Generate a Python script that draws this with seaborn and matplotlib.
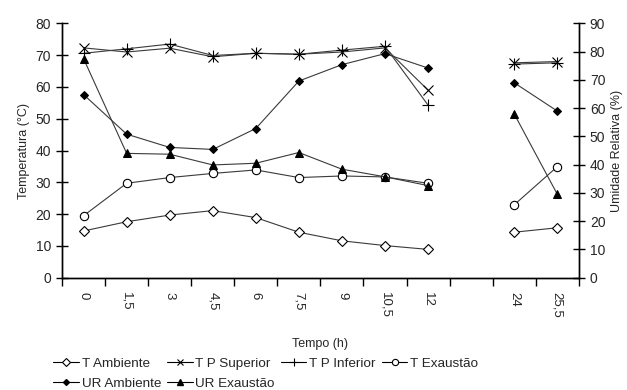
import numpy as np
import pandas as pd
import seaborn as sns
import matplotlib.pyplot as plt
from matplotlib.lines import Line2D

# categories on x (one empty slot between 12 and 24)
tempo = ['0', '1,5', '3', '4,5', '6', '7,5', '9', '10,5', '12', '', '24', '25,5']

# temperatures (left axis, degC); None = empty slot
t_ambiente = [14.7, 17.6, 19.7, 21.1, 18.9, 14.3, 11.6, 10.1, 8.9, None, 14.3, 15.7]
t_p_superior = [72.3, 71.0, 72.2, 69.5, 70.6, 70.3, 71.0, 72.3, 59.0, None, 67.6, 68.0]
t_p_inferior = [70.6, 72.0, 73.5, 69.9, 70.6, 70.3, 71.6, 72.8, 54.3, None, 67.2, 67.6]
t_exaustao = [19.5, 29.7, 31.5, 32.8, 33.9, 31.5, 32.0, 31.7, 29.7, None, 22.9, 34.9]

# relative humidity (right axis, %)
ur_ambiente = [64.8, 50.8, 46.1, 45.4, 52.8, 69.6, 75.4, 79.3, 74.2, None, 69.0, 59.0]
ur_exaustao = [77.5, 44.0, 43.7, 39.9, 40.5, 44.3, 38.4, 35.7, 32.6, None, 58.0, 29.6]

left_series = {'T Ambiente': t_ambiente, 'T P Superior': t_p_superior,
               'T P Inferior': t_p_inferior, 'T Exaustão': t_exaustao}
right_series = {'UR Ambiente': ur_ambiente, 'UR Exaustão': ur_exaustao}

styles = {
    'T Ambiente': dict(marker='D', markersize=5, markerfacecolor='white', markeredgewidth=0.8),
    'T P Superior': dict(marker='x', markersize=6.5, markeredgewidth=0.8),
    'T P Inferior': dict(marker='+', markersize=8, markeredgewidth=0.8),
    'T Exaustão': dict(marker='o', markersize=6, markerfacecolor='white', markeredgewidth=0.8),
    'UR Ambiente': dict(marker='D', markersize=4, markerfacecolor='black'),
    'UR Exaustão': dict(marker='^', markersize=5.5, markerfacecolor='black'),
}


def to_long(series):
    rows = []
    for name, vals in series.items():
        for i, v in enumerate(vals):
            if v is None:
                continue
            rows.append({'serie': name, 'pos': i, 'valor': v, 'seg': 0 if i < 9 else 1})
    return pd.DataFrame(rows)


sns.set_style('ticks')
plt.rcParams['font.family'] = ['Liberation Sans', 'DejaVu Sans']

fig, ax = plt.subplots(figsize=(6.27, 3.9), dpi=100)
ax2 = ax.twinx()
fig.subplots_adjust(left=0.099, right=0.923, top=0.940, bottom=0.288)

line_color = '#3a3a3a'
for axis, series in ((ax, left_series), (ax2, right_series)):
    df = to_long(series)
    for name in series:
        sub = df[df['serie'] == name]
        sns.lineplot(data=sub, x='pos', y='valor', units='seg', estimator=None,
                     sort=False, ax=axis, color=line_color, linewidth=0.8,
                     markeredgecolor='black', legend=False, **styles[name])

ax.set_xlim(-0.5, len(tempo) - 0.5)
ax.set_ylim(0, 80)
ax2.set_ylim(0, 90)
ax.set_yticks(range(0, 81, 10))
ax2.set_yticks(range(0, 91, 10))

ax.set_xticks(range(len(tempo)))
ax.set_xticklabels(tempo, rotation=-90, fontsize=9.5)
ax.set_xticks(np.arange(-0.5, len(tempo), 1), minor=True)
ax.tick_params(axis='x', which='major', length=0, pad=10)
ax.tick_params(axis='x', which='minor', length=6, width=1, direction='out', color='black')
ax.tick_params(axis='y', length=9, width=1, direction='inout', labelsize=10, color='black')
ax2.tick_params(axis='y', length=9, width=1, direction='inout', labelsize=10, color='black')

ax.set_xlabel('Tempo (h)', fontsize=9, labelpad=15)
ax.set_ylabel('Temperatura (°C)', fontsize=9, labelpad=4)
ax2.set_ylabel('Umidade Relativa (%)', fontsize=9, labelpad=4)

for a in (ax, ax2):
    a.spines['top'].set_visible(False)
    for s in ('left', 'right', 'bottom'):
        a.spines[s].set_color('black')
        a.spines[s].set_linewidth(1)

# legend in row-major order across 4 columns
order = ['T Ambiente', 'UR Ambiente', 'T P Superior', 'UR Exaustão', 'T P Inferior', 'T Exaustão']
handles = [Line2D([], [], color='black', linewidth=0.8, markeredgecolor='black', **styles[n])
           for n in order]
fig.legend(handles, order, loc='upper left', bbox_to_anchor=(0.085, 0.084),
           ncol=4, frameon=False, fontsize=9.7, markerscale=0.75,
           handlelength=1.9, handletextpad=0.2, columnspacing=0.45, labelspacing=0.6,
           borderaxespad=0, borderpad=0)

fig.savefig('out.png', dpi=100)
